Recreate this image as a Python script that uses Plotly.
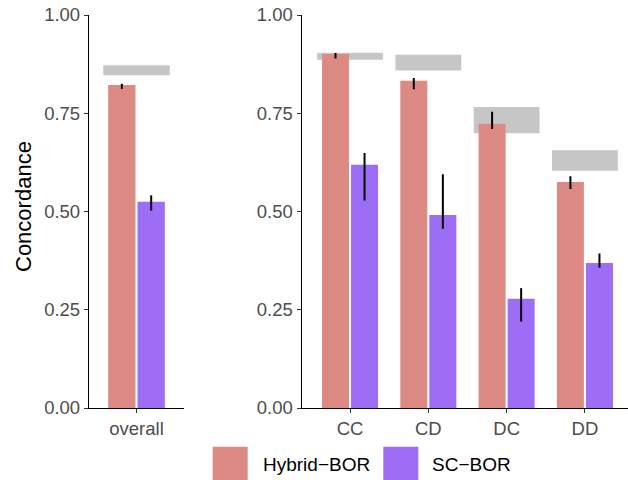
import plotly.graph_objects as go

# ---- data ----
overall_cat = ["overall"]
hyb_overall = [0.822]
hyb_overall_lo = [0.812]
hyb_overall_hi = [0.825]
sc_overall = [0.525]
sc_overall_lo = [0.502]
sc_overall_hi = [0.541]
ceil_overall_lo = [0.847]
ceil_overall_hi = [0.872]

cats = ["CC", "CD", "DC", "DD"]
hyb = [0.901, 0.833, 0.723, 0.575]
hyb_lo = [0.889, 0.811, 0.710, 0.557]
hyb_hi = [0.903, 0.840, 0.754, 0.590]
sc = [0.619, 0.491, 0.278, 0.369]
sc_lo = [0.528, 0.456, 0.220, 0.357]
sc_hi = [0.649, 0.595, 0.305, 0.393]
ceil_lo = [0.886, 0.859, 0.699, 0.604]
ceil_hi = [0.904, 0.899, 0.766, 0.656]

series_names = ["Hybrid\u2212BOR", "SC\u2212BOR"]
y_ticks = [0, 0.25, 0.5, 0.75, 1.0]

# ---- style ----
C_HYB = "#DD8A85"
C_SC = "#9D6DF6"
C_CEIL = "#C6C6C6"
FONT = "Liberation Sans, Arial, sans-serif"
W, H = 628, 480
ML, MR, MT, MB = 89, 0, 15, 72
PW, PH = W - ML - MR, H - MT - MB

def px_x(px):
    return (px - ML) / PW

def px_y(py):
    return (H - MB - py) / PH

BW = 0.345
fig = go.Figure()

def add_panel(xcats, h, hlo, hhi, s, slo, shi, clo, chi, xa, ya):
    fig.add_trace(go.Bar(x=xcats, y=[b - a for a, b in zip(clo, chi)], base=clo,
                         width=0.84, offset=-0.42, marker=dict(color=C_CEIL, line=dict(width=0)),
                         xaxis=xa, yaxis=ya, showlegend=False, hoverinfo="skip"))
    fig.add_trace(go.Bar(x=xcats, y=h, width=BW, offset=-0.358,
                         marker=dict(color=C_HYB, line=dict(width=0)),
                         error_y=dict(type="data", symmetric=False,
                                      array=[b - a for a, b in zip(h, hhi)],
                                      arrayminus=[a - b for a, b in zip(h, hlo)],
                                      color="black", thickness=2, width=0),
                         xaxis=xa, yaxis=ya, showlegend=False))
    fig.add_trace(go.Bar(x=xcats, y=s, width=BW, offset=0.013,
                         marker=dict(color=C_SC, line=dict(width=0)),
                         error_y=dict(type="data", symmetric=False,
                                      array=[b - a for a, b in zip(s, shi)],
                                      arrayminus=[a - b for a, b in zip(s, slo)],
                                      color="black", thickness=2, width=0),
                         xaxis=xa, yaxis=ya, showlegend=False))

add_panel(overall_cat, hyb_overall, hyb_overall_lo, hyb_overall_hi,
          sc_overall, sc_overall_lo, sc_overall_hi, ceil_overall_lo, ceil_overall_hi, "x", "y")
add_panel(cats, hyb, hyb_lo, hyb_hi, sc, sc_lo, sc_hi, ceil_lo, ceil_hi, "x2", "y2")

axis_common = dict(showline=True, linecolor="black", linewidth=1.3, ticks="outside",
                   ticklen=4, tickwidth=1.2, tickcolor="#333333", showgrid=False,
                   zeroline=False, tickfont=dict(family=FONT, size=18.5, color="#4D4D4D"))

fig.update_layout(
    width=W, height=H, margin=dict(l=ML, r=MR, t=MT, b=MB),
    paper_bgcolor="white", plot_bgcolor="white", barmode="overlay",
    showlegend=False,
    xaxis=dict(domain=[0, px_x(184)], range=[-0.6, 0.6], type="category", **axis_common),
    xaxis2=dict(domain=[px_x(301.7), 1], range=[-0.617, 3.55], type="category", **axis_common),
    yaxis=dict(range=[0, 1], tickvals=y_ticks, tickformat=".2f", anchor="x", **axis_common),
    yaxis2=dict(range=[0, 1], tickvals=y_ticks, tickformat=".2f", anchor="x2", **axis_common),
)

# y title
fig.add_annotation(text="Concordance", xref="paper", yref="paper", x=px_x(23), y=px_y(207),
                   textangle=-90, showarrow=False, xanchor="center", yanchor="middle",
                   font=dict(family=FONT, size=22, color="black"))

# legend (keys + labels)
legend_cols = [C_HYB, C_SC]
key_left = [212.7, 383.3]
text_left = [261, 430]
for name, col, kl, tl in zip(series_names, legend_cols, key_left, text_left):
    fig.add_shape(type="rect", xref="paper", yref="paper",
                  x0=px_x(kl), x1=px_x(kl + 35), y0=px_y(446.7), y1=px_y(482),
                  fillcolor=col, line=dict(width=0))
    fig.add_annotation(text=name, xref="paper", yref="paper", x=px_x(tl), y=px_y(464),
                       showarrow=False, xanchor="left", yanchor="middle",
                       font=dict(family=FONT, size=19, color="black"))

fig.write_html("out.html")
